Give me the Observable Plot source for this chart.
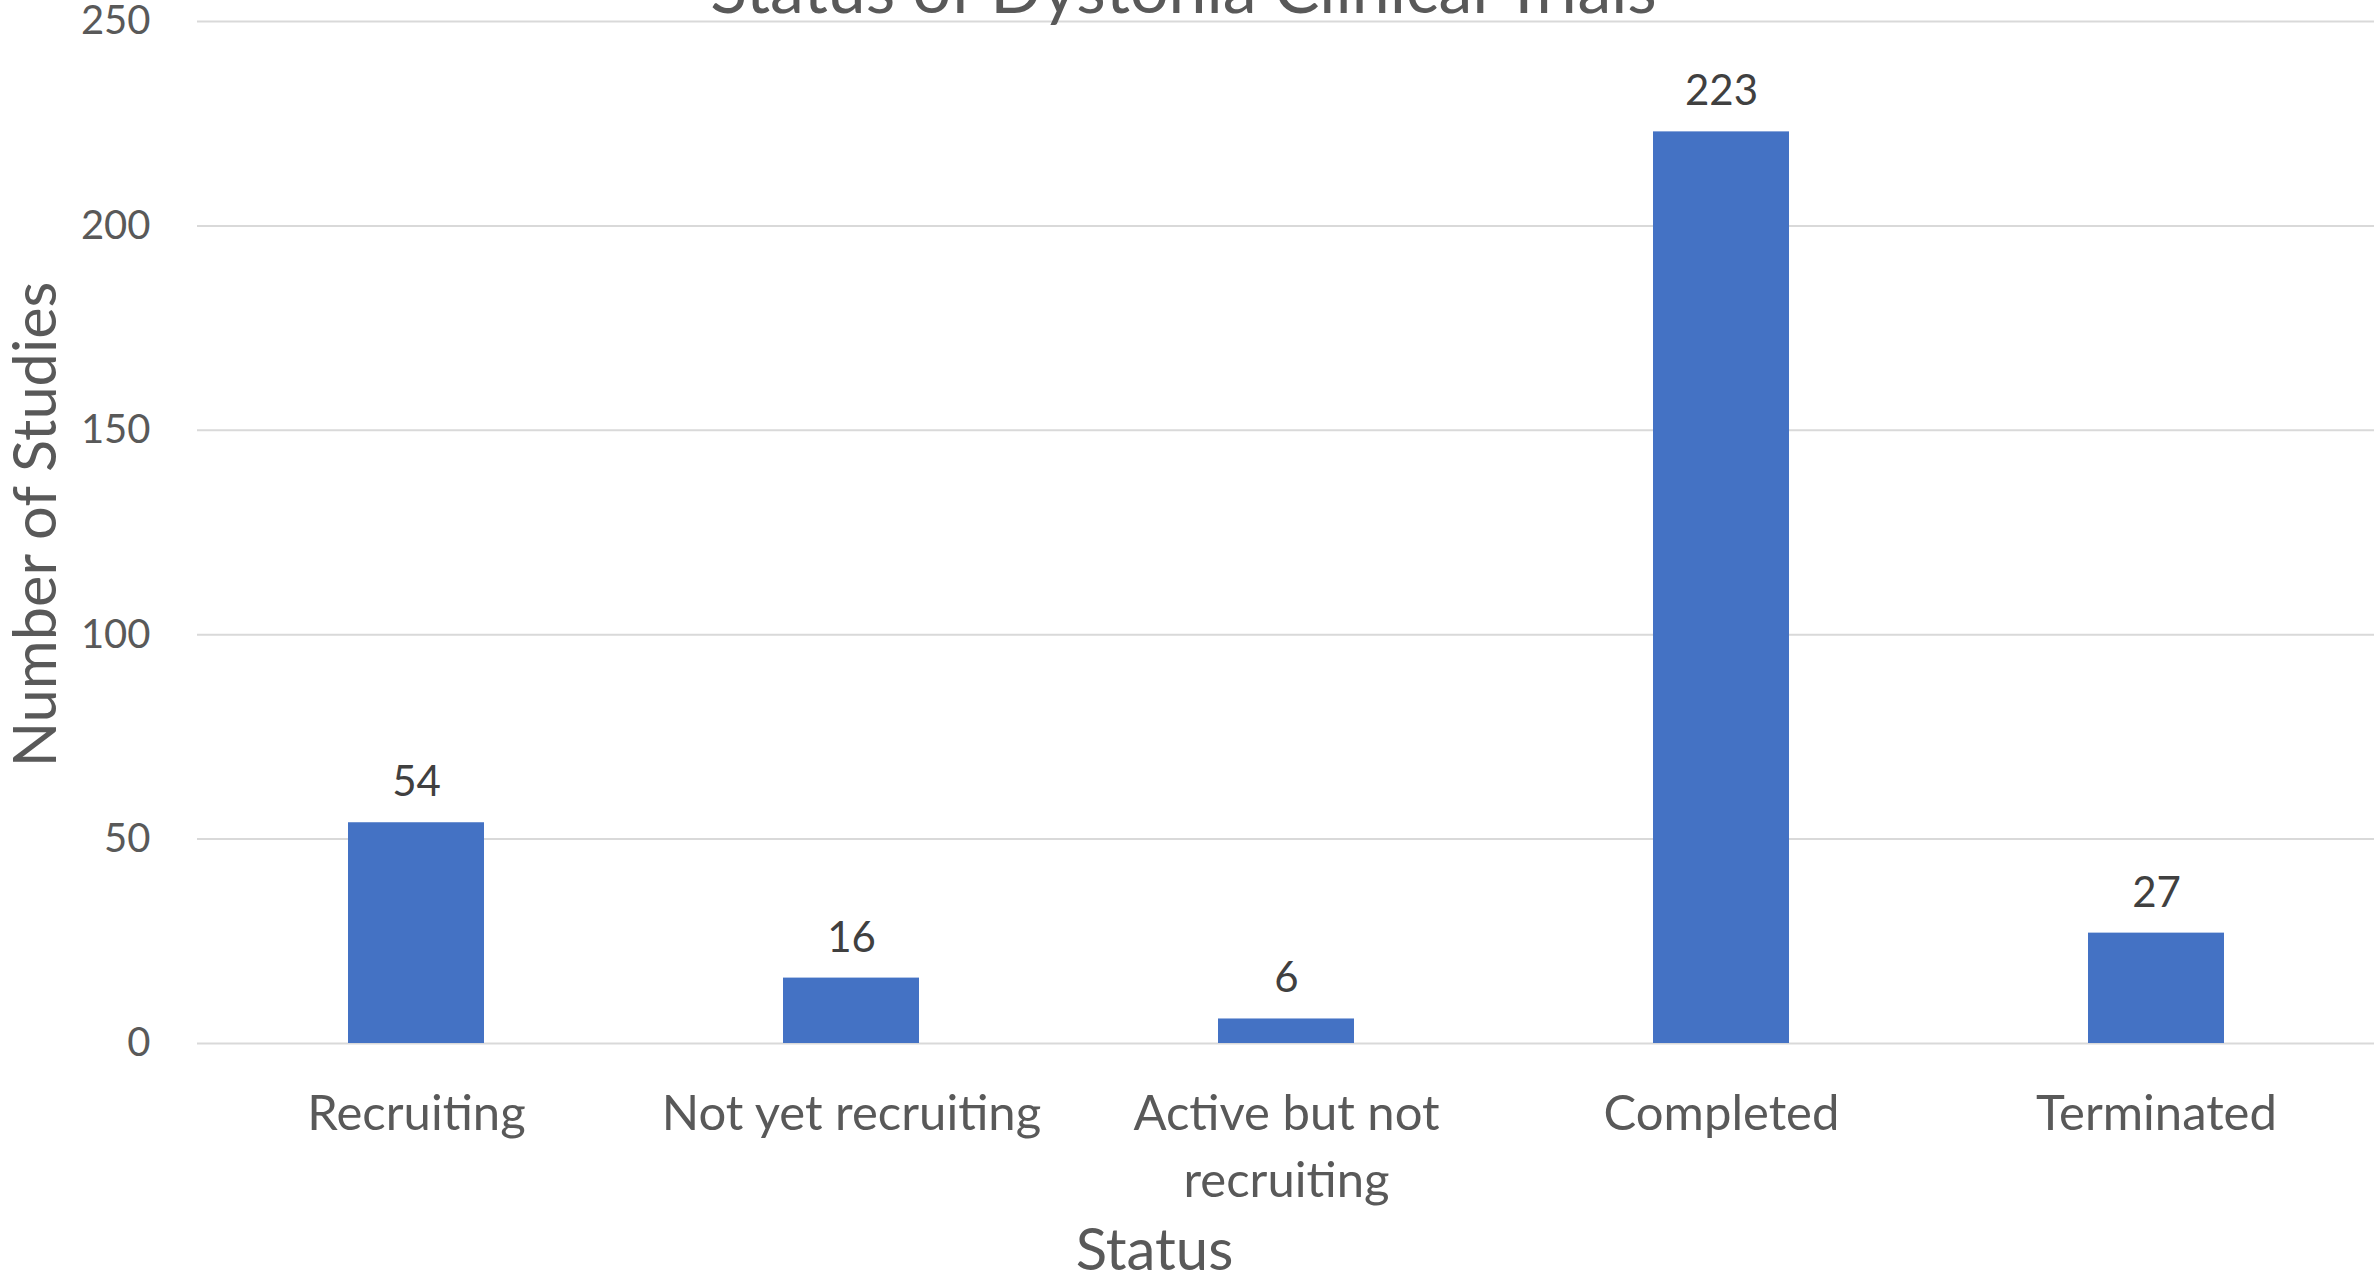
<!DOCTYPE html>
<html><head><meta charset="utf-8">
<script src="https://cdn.jsdelivr.net/npm/d3@7"></script>
<script src="https://cdn.jsdelivr.net/npm/@observablehq/plot@0.6"></script>
<style>html,body{margin:0;padding:0;background:#fff;overflow:hidden} svg{display:block}</style>
</head><body><div id="chart"></div>
<script>
const categories = ["Recruiting", "Not yet recruiting", "Active but not recruiting", "Completed", "Terminated"];
const categoryLabels = ["Recruiting", "Not yet recruiting", "Active but not\nrecruiting", "Completed", "Terminated"];
const studies = [54, 16, 6, 223, 27];
const yTicks = [0, 50, 100, 150, 200, 250];
const titleText = "Status of Dystonia Clinical Trials";
const xTitle = "Status";
const yTitle = "Number of Studies";

const data = categories.map((c, i) => ({status: c, n: studies[i]}));
const font = "Lato, 'Open Sans', sans-serif";
const gray = "#595959";

const chart = Plot.plot({
  width: 2374, height: 1275,
  marginLeft: 197, marginRight: 0, marginTop: 21, marginBottom: 232,
  style: {fontFamily: font, background: "#fff", overflow: "visible"},
  x: {domain: categories, paddingInner: 0.6875, paddingOuter: 0.34375, align: 0.5},
  y: {domain: [0, 250]},
  marks: [
    Plot.ruleY(yTicks, {stroke: "#D9D9D9", strokeWidth: 2}),
    Plot.barY(data, {x: "status", y: "n", fill: "#4472C4"}),
    Plot.text(data, {x: "status", y: "n", text: d => String(d.n), dy: -40, fontSize: 42, fill: "#404040"}),
    Plot.axisY({ticks: yTicks, tickSize: 0, tickPadding: 47, fontSize: 40, fill: gray, label: null}),
    Plot.axisX({tickSize: 0, tickPadding: 40, tickFormat: d => categoryLabels[categories.indexOf(d)], fontSize: 49, lineHeight: 1.35, fill: gray, label: null}),
    Plot.text([titleText], {frameAnchor: "top-left", textAnchor: "middle", lineAnchor: "middle", dx: 986, dy: -30, fontSize: 68, fill: gray}),
    Plot.text([xTitle], {frameAnchor: "bottom-left", textAnchor: "middle", lineAnchor: "middle", dx: 957, dy: 208, fontSize: 58, fill: gray}),
    Plot.text([yTitle], {frameAnchor: "left", textAnchor: "middle", lineAnchor: "middle", dx: -161, dy: -8, rotate: -90, fontSize: 59.5, fill: gray})
  ]
});
document.getElementById("chart").appendChild(chart);
</script>
</body></html>
